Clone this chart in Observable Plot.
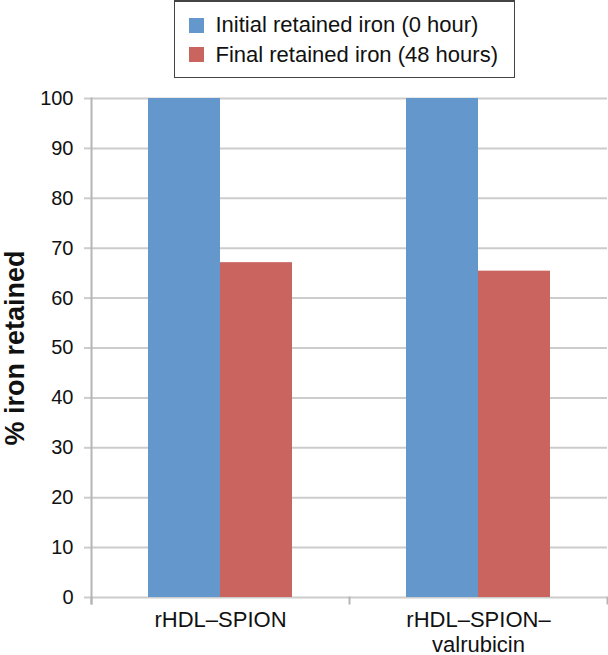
<!DOCTYPE html>
<html><head><meta charset="utf-8">
<script src="https://cdn.jsdelivr.net/npm/d3@7"></script>
<script src="https://cdn.jsdelivr.net/npm/@observablehq/plot@0.6"></script>
<style>
body{margin:0;background:#fff;font-family:"Liberation Sans",Arial,sans-serif;}
#wrap{width:608px;height:655px;position:relative;overflow:hidden;background:#fff}
#legend{position:relative;margin-left:174px;width:341px;height:78px;box-sizing:border-box;border:1.5px solid #444;border-top-width:2px}
.sw{position:absolute;width:15px;height:15px;left:13.5px}
.lt{position:absolute;left:40.5px;font-size:22px;line-height:22px;color:#111;white-space:nowrap}
#chart svg{display:block}
g[aria-label="y-axis label"] text{font-weight:bold;font-size:27px;fill:#111}
</style></head>
<body>
<div id="wrap">
  <div id="legend"></div>
  <div id="chart"></div>
</div>
<script>
const categories = ["rHDL–SPION", "rHDL–SPION–valrubicin"];
const categoryLabels = ["rHDL–SPION", "rHDL–SPION–\nvalrubicin"];
const series = ["Initial retained iron (0 hour)", "Final retained iron (48 hours)"];
const initialValues = [100, 100];
const finalValues = [67.1, 65.4];
const yTicks = [0, 10, 20, 30, 40, 50, 60, 70, 80, 90, 100];
const colors = ["#6497CB", "#C9645F"];
const yLabel = "% iron retained";

const data = [];
categories.forEach((c, i) => {
  data.push({category: c, series: series[0], value: initialValues[i]});
  data.push({category: c, series: series[1], value: finalValues[i]});
});

// legend
const legend = document.getElementById("legend");
const swTops = [16, 45], txtTops = [11.5, 41.5];
series.forEach((s, i) => {
  const sw = document.createElement("div");
  sw.className = "sw"; sw.style.top = swTops[i] + "px"; sw.style.background = colors[i];
  legend.appendChild(sw);
  const t = document.createElement("div");
  t.className = "lt"; t.style.top = txtTops[i] + "px"; t.textContent = s;
  legend.appendChild(t);
});

const W = 608, H = 577, mT = 20, mB = 58, mL = 90, mR = 1;
const innerH = H - mT - mB;
const gridColor = "#cccccc", axisColor = "#b5b5b5";

const chart = Plot.plot({
  width: W, height: H,
  marginTop: mT, marginBottom: mB, marginLeft: mL, marginRight: mR,
  style: {fontFamily: "Liberation Sans, Arial, sans-serif", color: "#111", background: "#fff"},
  fx: {domain: categories, padding: 0, label: null},
  x: {domain: series, paddingInner: 0, paddingOuter: 0.77, axis: null},
  y: {domain: [0, 100]},
  color: {domain: series, range: colors},
  marks: [
    Plot.gridY(yTicks, {stroke: gridColor, strokeOpacity: 1, strokeWidth: 2}),
    Plot.axisY(yTicks, {tickSize: 7, tickPadding: 11, stroke: gridColor, strokeWidth: 2, fontSize: 20,
      label: yLabel, labelAnchor: "center", labelArrow: false, labelOffset: mL - 3, fill: "#111"}),
    Plot.barY(data, {fx: "category", x: "series", y: "value", fill: "series"}),
    Plot.frame({anchor: "left", facetAnchor: "left", stroke: axisColor, strokeWidth: 2, insetBottom: -6}),
    Plot.frame({anchor: "left", stroke: axisColor, strokeWidth: 2, insetTop: innerH, insetBottom: -6}),
    Plot.frame({anchor: "right", facetAnchor: "right", stroke: axisColor, strokeWidth: 2, insetTop: innerH, insetBottom: -6}),
    Plot.axisFx({anchor: "bottom", tickSize: 0, tickPadding: 12, fontSize: 22, lineHeight: 1.14, label: null, fill: "#111",
      tickFormat: d => categoryLabels[categories.indexOf(d)]})
  ]
});
document.getElementById("chart").appendChild(chart);
</script>
</body></html>
